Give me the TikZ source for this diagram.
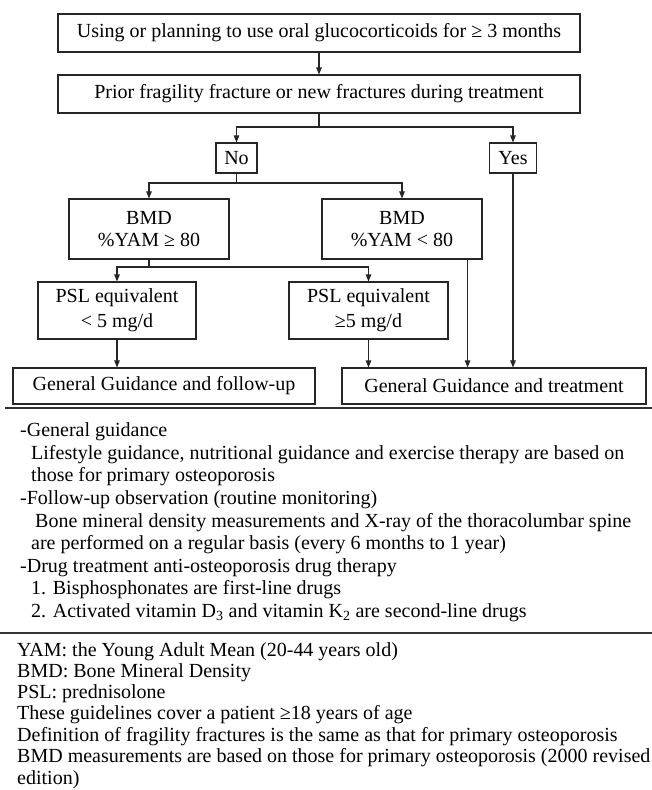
\documentclass[tikz,border=0pt]{standalone}
\usepackage{fontspec}
\setmainfont{Liberation Serif}
\usetikzlibrary{arrows.meta}
\begin{document}
\begin{tikzpicture}[x=1pt,y=-1pt,
  font=\fontsize{20}{22}\selectfont,
  box/.style={draw=black!85,line width=1.1pt,inner sep=0pt,align=center},
  link/.style={draw=black!85,line width=1.1pt},
  arr/.style={link,-{Triangle[length=7pt,width=5.5pt]}},
  rule/.style={draw=black!80,line width=1.8pt},
  txt/.style={anchor=base west,inner sep=0pt}]
\useasboundingbox (0,0) rectangle (652,790);

% flowchart boxes
\node[box,minimum width=522pt,minimum height=38pt] (use) at (319,33)
  {Using or planning to use oral glucocorticoids for ≥ 3 months};
\node[box,minimum width=522pt,minimum height=38pt] (frac) at (319,94)
  {Prior fragility fracture or new fractures during treatment};
\node[box,minimum width=41pt,minimum height=30pt] (no) at (236.5,158) {No};
\node[box,minimum width=47pt,minimum height=30pt] (yes) at (513,158) {Yes};
\node[box,minimum width=160pt,minimum height=60pt] (bmdhi) at (149,229)
  {BMD\\\%YAM ≥ 80};
\node[box,minimum width=160pt,minimum height=60pt] (bmdlo) at (402,229)
  {BMD\\\%YAM < 80};
\node[box,minimum width=158pt,minimum height=57pt] (psllo) at (117,310.5)
  {PSL equivalent\\[3pt]< 5 mg/d};
\node[box,minimum width=159pt,minimum height=57pt] (pslhi) at (368.5,310.5)
  {PSL equivalent\\[3pt]≥5 mg/d};
\node[box,minimum width=302pt,minimum height=36pt] (follow) at (164,386)
  {General Guidance and follow-up};
\node[box,minimum width=304pt,minimum height=36pt] (treat) at (494,386)
  {General Guidance and treatment};

% connectors
\draw[arr] (use.south) -- (frac.north);
\coordinate (split1) at (319,127);
\draw[link] (frac.south) -- (split1);
\draw[arr] (split1) -| (no.north);
\draw[arr] (split1) -| (yes.north);
\coordinate (split2) at (236.5,183);
\draw[link] (no.south) -- (split2);
\draw[arr] (split2) -| (bmdhi.north);
\draw[arr] (split2) -| (bmdlo.north);
\coordinate (split3) at (149,267);
\draw[link] (bmdhi.south) -- (split3);
\draw[arr] (split3) -| (psllo.north);
\draw[arr] (split3) -| (pslhi.north);
\draw[arr] (psllo.south) -- (psllo.south |- follow.north);
\draw[arr] (pslhi.south) -- (pslhi.south |- treat.north);
\draw[arr] ([xshift=-15pt]bmdlo.south east) -- ([xshift=-15pt]bmdlo.south east |- treat.north);
\draw[arr] (yes.south) -- (yes.south |- treat.north);

% separating rules
\coordinate (r1a) at (5,408);  \coordinate (r1b) at (652,408);
\coordinate (r2a) at (0,633);  \coordinate (r2b) at (652,633);
\draw[rule] (r1a) -- (r1b);
\draw[rule] (r2a) -- (r2b);

% notes
\node[txt] (n1) at (20,436.5) {-General guidance};
\node[txt] (n2) at (31,459) {Lifestyle guidance, nutritional guidance and exercise therapy are based on};
\node[txt] (n3) at (31,481.5) {those for primary osteoporosis};
\node[txt] (n4) at (20,504) {-Follow-up observation (routine monitoring)};
\node[txt] (n5) at (35,527) {Bone mineral density measurements and X-ray of the thoracolumbar spine};
\node[txt] (n6) at (31,549.5) {are performed on a regular basis (every 6 months to 1 year)};
\node[txt] (n7) at (20,572) {-Drug treatment anti-osteoporosis drug therapy};
\node[txt] (n8) at (31,594.5) {1. Bisphosphonates are first-line drugs};
\node[txt] (n9) at (31,617) {2. Activated vitamin D\textsubscript{3} and vitamin K\textsubscript{2} are second-line drugs};

% abbreviations
\node[txt] (a1) at (17,656) {YAM: the Young Adult Mean (20-44 years old)};
\node[txt] (a2) at (17,677) {BMD: Bone Mineral Density};
\node[txt] (a3) at (17,698) {PSL: prednisolone};
\node[txt] (a4) at (17,719.5) {These guidelines cover a patient ≥18 years of age};
\node[txt] (a5) at (17,741) {Definition of fragility fractures is the same as that for primary osteoporosis};
\node[txt] (a6) at (17,762.5) {BMD measurements are based on those for primary osteoporosis (2000 revised};
\node[txt] (a7) at (17,784) {edition)};
\end{tikzpicture}
\end{document}
